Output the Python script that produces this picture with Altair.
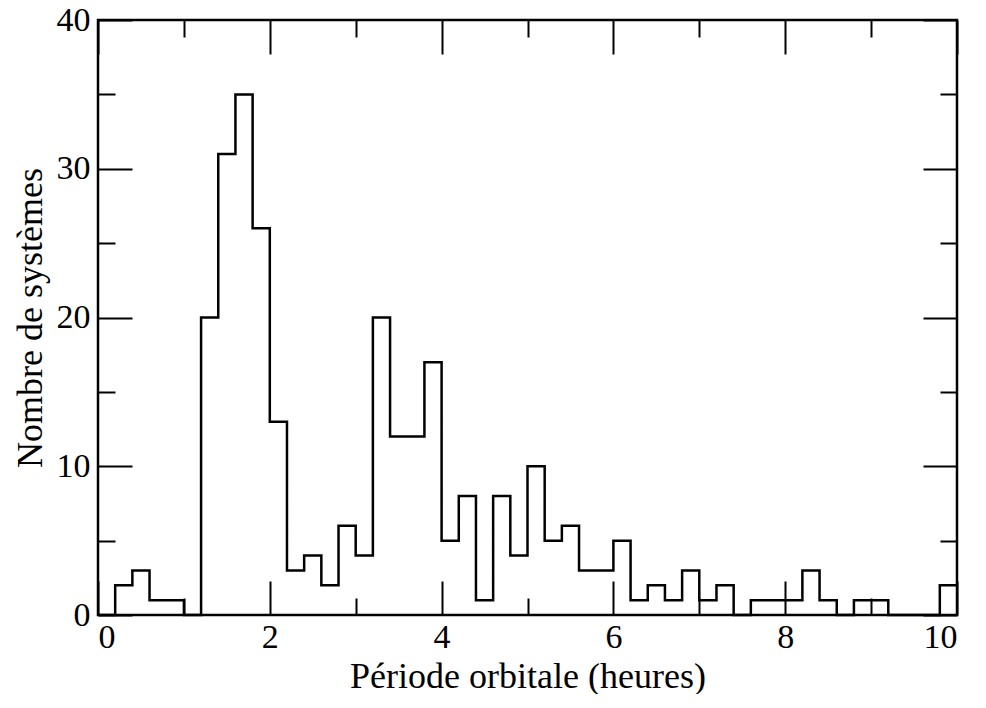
import altair as alt
import pandas as pd

# Histogram bin edges (hours) and counts per 0.2 h bin
bin_edges = [0.0, 0.2, 0.4, 0.6, 0.8, 1.0, 1.2, 1.4, 1.6, 1.8,
             2.0, 2.2, 2.4, 2.6, 2.8, 3.0, 3.2, 3.4, 3.6, 3.8,
             4.0, 4.2, 4.4, 4.6, 4.8, 5.0, 5.2, 5.4, 5.6, 5.8,
             6.0, 6.2, 6.4, 6.6, 6.8, 7.0, 7.2, 7.4, 7.6, 7.8,
             8.0, 8.2, 8.4, 8.6, 8.8, 9.0, 9.2, 9.4, 9.6, 9.8, 10.0]
counts = [0, 2, 3, 1, 1, 0, 20, 31, 35, 26,
          13, 3, 4, 2, 6, 4, 20, 12, 12, 17,
          5, 8, 1, 8, 4, 10, 5, 6, 3, 3,
          5, 1, 2, 1, 3, 1, 2, 0, 1, 1,
          1, 3, 1, 0, 1, 1, 0, 0, 0, 2]

x_major = [0, 2, 4, 6, 8, 10]
x_all = [0, 1, 2, 3, 4, 5, 6, 7, 8, 9, 10]
y_major = [0, 10, 20, 30, 40]
y_all = [0, 5, 10, 15, 20, 25, 30, 35, 40]

x_title = "Période orbitale (heures)"
y_title = "Nombre de systèmes"

W, H = 859, 595

df = pd.DataFrame({"period": bin_edges, "count": counts + [counts[-1]]})

xs = alt.Scale(domain=[0, 10], nice=False, zero=False)
ys = alt.Scale(domain=[0, 40], nice=False, zero=False)

x_tick_size = {"condition": {"test": "datum.value % 2 === 0", "value": 34}, "value": 17}
y_tick_size = {"condition": {"test": "datum.value % 10 === 0", "value": 34}, "value": 17}

base = alt.Chart(df)

hist = base.mark_line(interpolate="step-after", color="black", strokeWidth=2.5).encode(
    x=alt.X("period:Q", scale=xs,
            axis=alt.Axis(values=x_major, orient="bottom", ticks=False, tickSize=0,
                          labelPadding=5, title=x_title,
                          titleBaseline="alphabetic", titleY=72)),
    y=alt.Y("count:Q", scale=ys,
            axis=alt.Axis(values=y_major, orient="left", ticks=False, tickSize=0,
                          labelPadding=8, title=y_title,
                          titleBaseline="alphabetic", titleX=-57)),
)

ticks_a = base.mark_line(opacity=0).encode(
    x=alt.X("period:Q", scale=xs,
            axis=alt.Axis(values=x_all, orient="top", offset=-H, labels=False,
                          title="", tickSize=x_tick_size)),
    y=alt.Y("count:Q", scale=ys,
            axis=alt.Axis(values=y_all, orient="right", offset=-W, labels=False,
                          title="", tickSize=y_tick_size)),
)

ticks_b = base.mark_line(opacity=0).encode(
    x=alt.X("period:Q", scale=xs,
            axis=alt.Axis(values=x_all, orient="bottom", offset=-H, labels=False,
                          title="", tickSize=x_tick_size)),
    y=alt.Y("count:Q", scale=ys,
            axis=alt.Axis(values=y_all, orient="left", offset=-W, labels=False,
                          title="", tickSize=y_tick_size)),
)

chart = (
    alt.layer(hist, ticks_a, ticks_b)
    .resolve_axis(x="independent", y="independent")
    .properties(
        width=W, height=H,
        padding={"left": 90, "top": 12, "right": 20, "bottom": 79},
        autosize=alt.AutoSizeParams(type="none"),
        background="white",
    )
    .configure_view(stroke="black", strokeWidth=2.5)
    .configure_axis(
        labelFont="Liberation Serif", labelFontSize=34, labelColor="black",
        titleFont="Liberation Serif", titleFontSize=36, titleFontWeight="normal",
        titleColor="black", tickColor="black", tickWidth=2,
        grid=False, domain=False,
    )
)

chart.save("out.html", embed_options={"renderer": "svg", "actions": False})
